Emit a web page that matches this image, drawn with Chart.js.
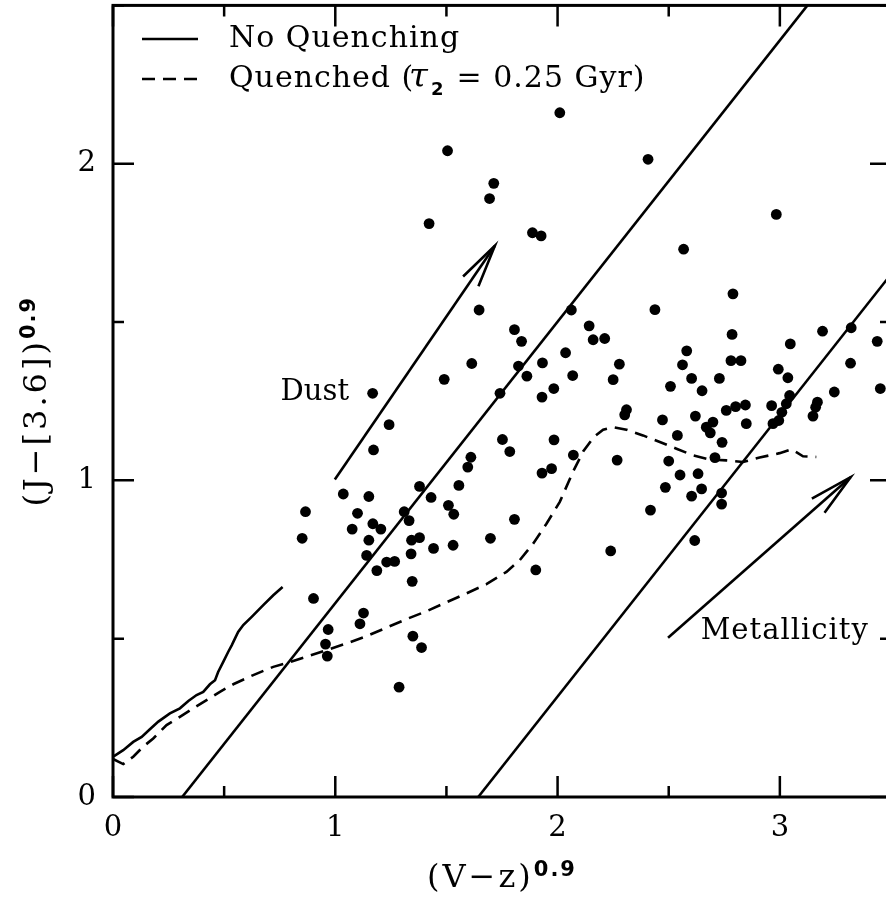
<!DOCTYPE html>
<html lang="en">
<head>
<meta charset="UTF-8">
<title>(J-[3.6]) vs (V-z) colour diagram</title>
<script src="https://cdn.jsdelivr.net/npm/chart.js"></script>
<style>
  html, body { margin: 0; padding: 0; background: #fff; overflow: hidden; }
  #wrap { width: 900px; height: 899px; }
</style>
</head>
<body>
<div id="wrap"><canvas id="chart" width="900" height="899"></canvas></div>
<script>
// galaxy colours
const galaxyX = [2.010,1.505,1.713,1.694,1.422,1.887,1.926,1.647,1.806,1.838,
  2.142,2.160,2.062,1.614,1.490,1.824,1.862,1.932,2.036,2.068,
  1.983,1.930,1.741,1.168,2.407,2.984,2.567,2.789,2.438,2.212,
  2.278,2.250,2.581,2.562,2.603,2.508,2.650,2.728,2.785,2.780,
  2.825,3.047,2.993,3.036,3.044,3.192,3.321,3.438,3.318,3.452,
  3.245,3.169,3.161,3.149,3.029,3.009,2.995,2.969,2.963,2.845,
  2.801,2.759,2.849,2.310,2.302,2.472,2.620,2.699,2.669,2.687,
  2.539,2.740,2.071,2.268,2.500,2.708,2.551,2.632,2.485,2.648,
  2.603,2.738,2.738,2.418,2.617,2.239,1.242,1.172,1.752,1.785,
  1.984,1.930,1.973,1.610,1.596,1.556,1.379,1.431,1.509,1.533,
  1.806,1.698,1.530,1.442,1.343,1.379,1.341,1.346,1.332,1.310,
  1.036,1.151,0.866,1.100,1.169,1.205,1.076,0.851,1.151,1.141,
  1.231,1.267,1.187,1.902,0.902,1.127,1.111,0.968,0.956,0.964,
  1.349,1.388,1.287];
const galaxyY = [2.161,2.041,1.938,1.890,1.811,1.782,1.772,1.538,1.476,1.439,
  1.488,1.444,1.538,1.369,1.319,1.361,1.329,1.371,1.403,1.331,
  1.290,1.263,1.275,1.275,2.014,1.840,1.730,1.589,1.539,1.448,
  1.367,1.318,1.409,1.365,1.322,1.297,1.283,1.322,1.461,1.378,
  1.378,1.431,1.351,1.324,1.268,1.471,1.482,1.439,1.370,1.290,
  1.279,1.247,1.231,1.203,1.242,1.215,1.189,1.179,1.236,1.238,
  1.233,1.221,1.179,1.223,1.207,1.191,1.203,1.184,1.168,1.150,
  1.142,1.120,1.080,1.064,1.061,1.072,1.017,1.021,0.978,0.973,
  0.950,0.960,0.925,0.906,0.810,0.777,1.176,1.096,1.129,1.091,
  1.128,1.023,1.037,1.073,1.042,0.984,0.981,0.946,0.921,0.893,
  0.877,0.817,0.795,0.785,0.811,0.819,0.768,0.681,0.873,0.901,
  0.957,0.949,0.901,0.896,0.863,0.846,0.846,0.817,0.811,0.763,
  0.742,0.744,0.715,0.717,0.627,0.581,0.547,0.529,0.483,0.445,
  0.508,0.472,0.347];

// model tracks
const noQuenchX = [0.001,0.046,0.091,0.129,0.166,0.204,0.256,0.301,0.339,0.376,0.406,0.436,
  0.459,0.473,0.496,0.518,0.534,0.549,0.563,0.586,0.624,0.676,0.721,0.763];
const noQuenchY = [0.127,0.148,0.174,0.190,0.214,0.238,0.264,0.280,0.303,0.322,0.332,0.356,
  0.369,0.395,0.427,0.458,0.479,0.501,0.521,0.543,0.569,0.606,0.637,0.663];
const quenchedX = [0.000,0.046,0.091,0.136,0.181,0.241,0.301,0.361,0.421,0.481,0.541,0.631,
  0.721,0.788,0.871,0.961,1.051,1.141,1.231,1.321,1.411,1.500,1.590,1.680,1.770,1.830,
  1.890,1.950,2.010,2.070,2.115,2.163,2.205,2.250,2.310,2.384,2.460,2.535,2.609,2.684,
  2.759,2.834,2.909,2.999,3.052,3.074,3.104,3.164];
const quenchedY = [0.120,0.104,0.127,0.159,0.185,0.227,0.253,0.280,0.306,0.332,0.356,0.385,
  0.411,0.424,0.443,0.464,0.485,0.508,0.535,0.562,0.587,0.615,0.643,0.672,0.711,0.748,
  0.800,0.863,0.932,1.028,1.091,1.137,1.160,1.168,1.160,1.142,1.121,1.100,1.079,1.066,
  1.063,1.058,1.072,1.086,1.098,1.089,1.076,1.074];

// straight lines and vectors
const lineAX = [0.311, 3.124], lineAY = [0.0, 2.5];
const lineBX = [1.643, 4.455], lineBY = [0.0, 2.5];
const dustX = [0.998, 1.718], dustY = [1.003, 1.741];
const dustHeadX = [1.575, 1.718, 1.644], dustHeadY = [1.644, 1.741, 1.613];
const metalX = [2.497, 3.318], metalY = [0.503, 1.010];
const metalHeadX = [3.144, 3.318, 3.201], metalHeadY = [0.942, 1.010, 0.898];

// axes
const xMajor = [0, 1, 2, 3];
const yMajor = [0, 1, 2];
const xRange = [0, 3.5], yRange = [0, 2.5];

const pts = (xs, ys) => xs.map((v, i) => ({ x: v, y: ys[i] }));
const SERIF = '"DejaVu Serif", serif';
const LW = 2.6;

function lineSet(xs, ys, extra) {
  return Object.assign({
    data: pts(xs, ys), showLine: true, pointRadius: 0, borderColor: '#000',
    borderWidth: LW, fill: false, tension: 0
  }, extra || {});
}

function drawSup(ctx, main, sup, x, y) {
  ctx.font = '32px ' + SERIF;
  ctx.letterSpacing = '3px';
  const w1 = ctx.measureText(main).width;
  ctx.font = 'bold 21px "DejaVu Sans", sans-serif';
  ctx.letterSpacing = '2px';
  const w2 = ctx.measureText(sup).width;
  const start = x - (w1 + w2) / 2;
  ctx.textAlign = 'left';
  ctx.textBaseline = 'alphabetic';
  ctx.font = '32px ' + SERIF;
  ctx.letterSpacing = '3px';
  ctx.fillText(main, start, y);
  ctx.font = 'bold 21px "DejaVu Sans", sans-serif';
  ctx.letterSpacing = '2px';
  ctx.fillText(sup, start + w1, y - 11);
  ctx.letterSpacing = '0px';
}

const decorations = {
  id: 'decorations',
  afterDatasetsDraw(chart) {
    const { ctx, chartArea: a, scales: { x, y } } = chart;
    ctx.save();
    ctx.strokeStyle = '#000';
    ctx.fillStyle = '#000';
    ctx.lineCap = 'butt';

    // inward ticks on all four sides
    ctx.lineWidth = 2.5;
    ctx.beginPath();
    x.ticks.forEach(t => {
      const p = x.getPixelForValue(t.value);
      const len = xMajor.includes(t.value) ? 21 : 11;
      ctx.moveTo(p, a.bottom); ctx.lineTo(p, a.bottom - len);
      ctx.moveTo(p, a.top); ctx.lineTo(p, a.top + len);
    });
    y.ticks.forEach(t => {
      const p = y.getPixelForValue(t.value);
      const len = yMajor.includes(t.value) ? 21 : 11;
      ctx.moveTo(a.left, p); ctx.lineTo(a.left + len, p);
      ctx.moveTo(a.right, p); ctx.lineTo(a.right - len, p);
    });
    ctx.stroke();

    // frame
    ctx.lineWidth = 3;
    ctx.strokeRect(a.left, a.top, a.right - a.left, a.bottom - a.top);

    // legend
    ctx.lineWidth = LW;
    ctx.beginPath();
    ctx.moveTo(142, 39); ctx.lineTo(198, 39);
    ctx.stroke();
    ctx.setLineDash([13, 8]);
    ctx.beginPath();
    ctx.moveTo(142, 79); ctx.lineTo(198, 79);
    ctx.stroke();
    ctx.setLineDash([]);

    ctx.textAlign = 'left';
    ctx.textBaseline = 'alphabetic';
    ctx.font = '30px ' + SERIF;
    ctx.letterSpacing = '1px';
    ctx.fillText('No Quenching', 229, 47);
    ctx.fillText('Quenched (', 229, 87);
    ctx.letterSpacing = '0px';
    ctx.font = 'italic 34px ' + SERIF;
    ctx.fillText('\u03C4', 409, 87);
    ctx.font = 'bold 18px "DejaVu Sans", sans-serif';
    ctx.fillText('2', 431, 95);
    ctx.font = '30px ' + SERIF;
    ctx.letterSpacing = '1px';
    ctx.fillText(' = 0.25 Gyr)', 446, 87);
    ctx.letterSpacing = '0px';

    // vector labels
    ctx.textAlign = 'center';
    ctx.textBaseline = 'middle';
    ctx.font = '29px ' + SERIF;
    ctx.fillText('Dust', x.getPixelForValue(0.908), y.getPixelForValue(1.278));
    ctx.letterSpacing = '1px';
    ctx.fillText('Metallicity', x.getPixelForValue(3.022), y.getPixelForValue(0.524));
    ctx.letterSpacing = '0px';

    // axis titles
    drawSup(ctx, '(V\u2212z)', '0.9', (a.left + a.right) / 2, 887);
    ctx.translate(46, (a.top + a.bottom) / 2);
    ctx.rotate(-Math.PI / 2);
    drawSup(ctx, '(J\u2212[3.6])', '0.9', 0, 0);
    ctx.restore();
  }
};

new Chart(document.getElementById('chart'), {
  type: 'scatter',
  data: {
    datasets: [
      { data: pts(galaxyX, galaxyY), pointRadius: 5.4, pointBackgroundColor: '#000',
        pointBorderWidth: 0, showLine: false },
      lineSet(noQuenchX, noQuenchY),
      lineSet(quenchedX, quenchedY, { borderDash: [13, 8] }),
      lineSet(lineAX, lineAY),
      lineSet(lineBX, lineBY),
      lineSet(dustX, dustY),
      lineSet(dustHeadX, dustHeadY),
      lineSet(metalX, metalY),
      lineSet(metalHeadX, metalHeadY)
    ]
  },
  options: {
    responsive: false,
    devicePixelRatio: 1,
    animation: false,
    layout: { padding: { top: 4, right: 9, left: 0, bottom: 0 } },
    plugins: { legend: { display: false }, tooltip: { enabled: false } },
    scales: {
      x: {
        type: 'linear', min: xRange[0], max: xRange[1],
        grid: { display: false, drawTicks: false },
        border: { display: false },
        afterFit: s => { s.height = 102; s.paddingLeft = 0; s.paddingRight = 0; },
        ticks: {
          stepSize: 0.5, padding: 14, color: '#000', maxRotation: 0, autoSkip: false,
          font: { family: SERIF, size: 29 },
          callback: v => xMajor.includes(v) ? String(v) : ''
        }
      },
      y: {
        type: 'linear', min: yRange[0], max: yRange[1],
        grid: { display: false, drawTicks: false },
        border: { display: false },
        afterFit: s => { s.width = 113; s.paddingTop = 0; s.paddingBottom = 0; },
        ticks: {
          stepSize: 0.5, padding: 17, color: '#000', autoSkip: false,
          font: { family: SERIF, size: 29 },
          callback: v => yMajor.includes(v) ? String(v) : ''
        }
      }
    }
  },
  plugins: [decorations]
});
</script>
</body>
</html>
